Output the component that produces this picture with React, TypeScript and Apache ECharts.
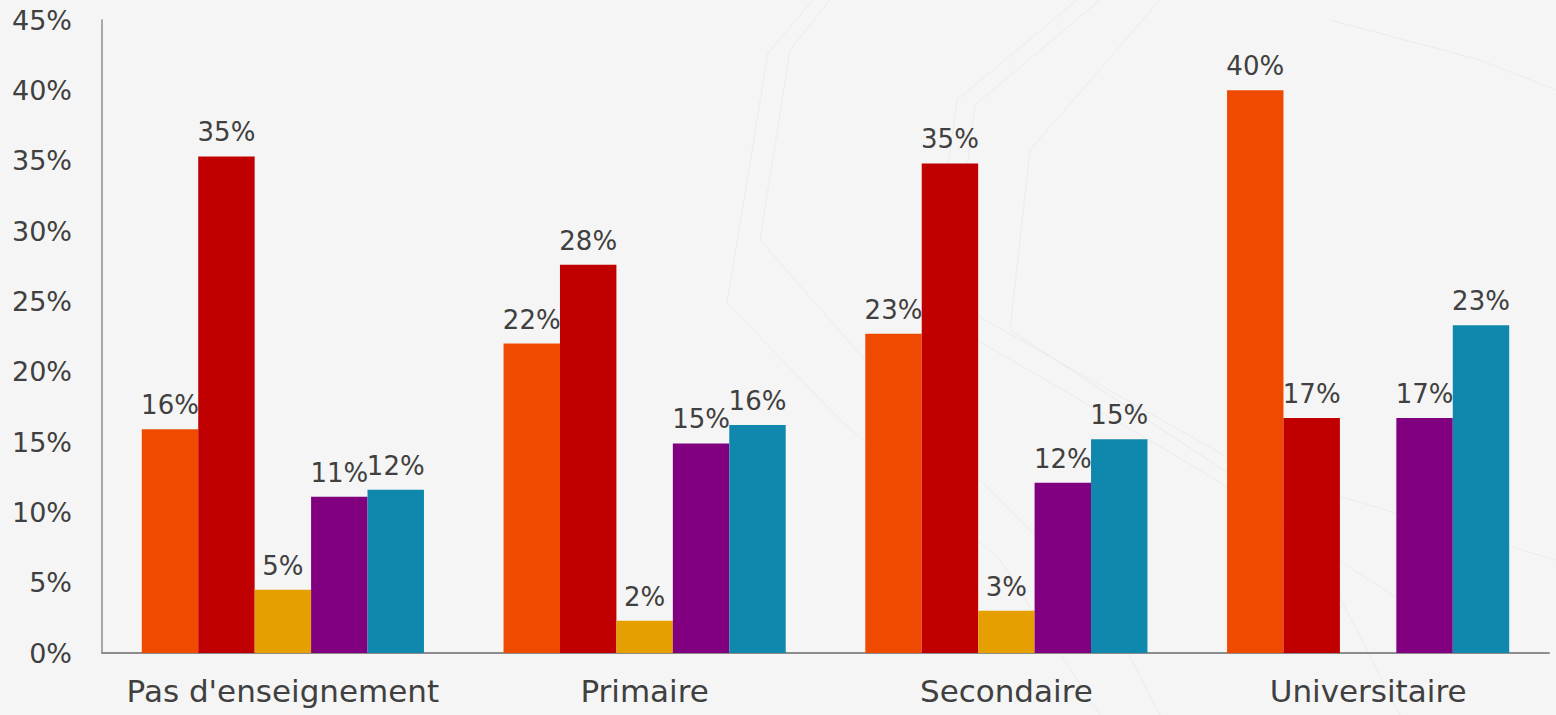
import React, { useEffect, useRef } from "react";
import * as echarts from "echarts";

const categories = ["Pas d'enseignement", "Primaire", "Secondaire", "Universitaire"];
const seriesA = [15.9, 22.0, 22.7, 40.0];
const seriesB = [35.3, 27.6, 34.8, 16.7];
const seriesC = [4.5, 2.3, 3.0, null];
const seriesD = [11.1, 14.9, 12.1, 16.7];
const seriesE = [11.6, 16.2, 15.2, 23.3];
const colors = ["#EF4A00", "#C00000", "#E69F00", "#800080", "#1087AD"];
const yTicks = [0, 5, 10, 15, 20, 25, 30, 35, 40, 45];

const FONT = "DejaVu Sans";

export default function App() {
  const ref = useRef<HTMLDivElement>(null);
  useEffect(() => {
    if (!ref.current) return;
    const chart = echarts.init(ref.current, undefined, { renderer: "svg" });
    const all = [seriesA, seriesB, seriesC, seriesD, seriesE];
    const faint = { stroke: "#ebebeb", lineWidth: 1, fill: "none" };
    chart.setOption({
      animation: false,
      backgroundColor: "#F5F5F5",
      graphic: [
        { type: "polyline", silent: true, z: -10, shape: { points: [[813, 0], [768, 53], [727, 303], [840, 420], [1000, 560], [1100, 715]] }, style: faint },
        { type: "polyline", silent: true, z: -10, shape: { points: [[830, 0], [790, 50], [760, 240], [900, 400], [1100, 600], [1160, 715]] }, style: faint },
        { type: "polyline", silent: true, z: -10, shape: { points: [[1077, 0], [957, 100], [933, 277], [960, 330], [1200, 470], [1400, 600]] }, style: faint },
        { type: "polyline", silent: true, z: -10, shape: { points: [[1100, 0], [975, 105], [950, 300], [1250, 470], [1556, 560]] }, style: faint },
        { type: "polyline", silent: true, z: -10, shape: { points: [[1160, 0], [1030, 150], [1010, 330], [1300, 520], [1400, 715]] }, style: faint },
        { type: "polyline", silent: true, z: -10, shape: { points: [[1330, 20], [1480, 60], [1556, 90]] }, style: faint },
      ],
      grid: { left: 102, right: 7, top: 20, bottom: 62, containLabel: false },
      xAxis: {
        type: "category",
        data: categories,
        axisLine: { show: true, lineStyle: { color: "#8c8c8c", width: 2 } },
        axisTick: { show: false },
        axisLabel: { color: "#404040", fontSize: 31, fontFamily: FONT, margin: 22, interval: 0 },
      },
      yAxis: {
        type: "value",
        min: 0,
        max: 45,
        interval: 5,
        axisLine: { show: true, lineStyle: { color: "#8c8c8c", width: 1.5 } },
        axisTick: { show: false },
        splitLine: { show: false },
        axisLabel: {
          color: "#404040",
          fontSize: 27,
          fontFamily: FONT,
          margin: 30,
          formatter: (v: number) => (yTicks.includes(v) ? v + "%" : ""),
        },
      },
      series: all.map((d, i) => ({
        type: "bar",
        data: d,
        barGap: "0%",
        barCategoryGap: "22%",
        itemStyle: { color: colors[i] },
        label: {
          show: true,
          position: "top",
          distance: 11,
          color: "#404040",
          fontSize: 26,
          fontFamily: FONT,
          formatter: (p: any) => (p.value == null ? "" : Math.round(p.value) + "%"),
        },
      })),
    });
    return () => chart.dispose();
  }, []);
  return <div ref={ref} style={{ width: 1556, height: 715, position: "absolute", left: 0, top: 0 }} />;
}
